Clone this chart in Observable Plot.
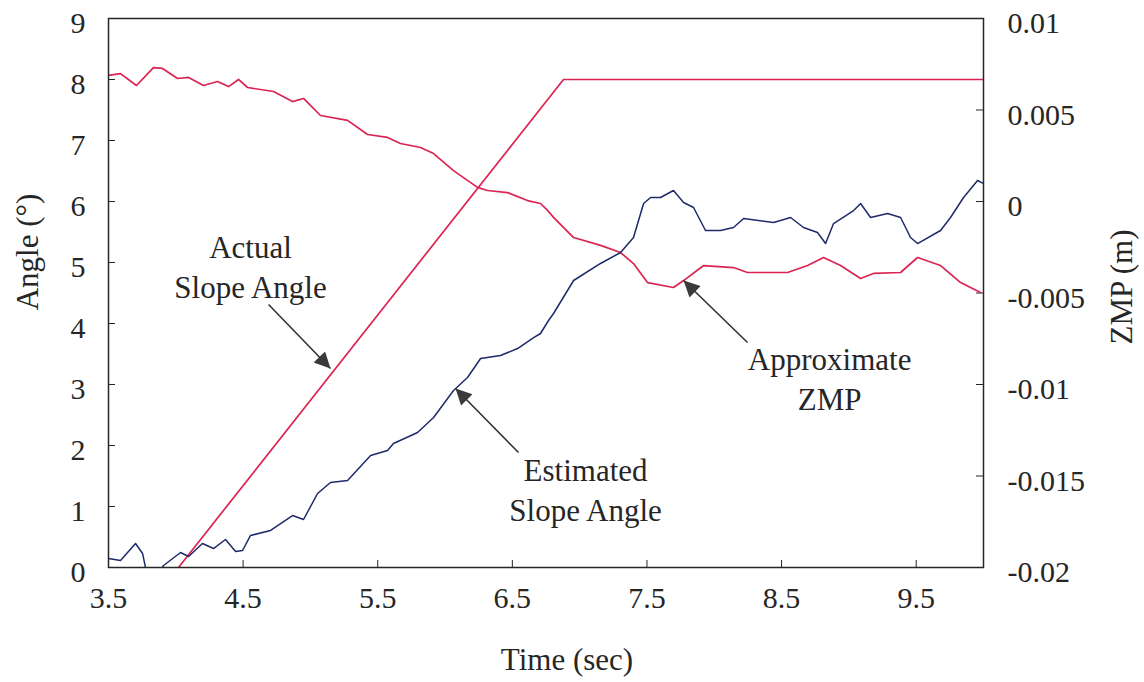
<!DOCTYPE html>
<html>
<head>
<meta charset="utf-8">
<script src="https://cdn.jsdelivr.net/npm/d3@7"></script>
<script src="https://cdn.jsdelivr.net/npm/@observablehq/plot@0.6"></script>
<style>
  html, body { margin: 0; padding: 0; background: #fff; }
  #chart svg { display: block; }
</style>
</head>
<body>
<div id="chart"></div>
<script>
// ---- Tick values / labels ----
const timeTicks = [3.5, 4.5, 5.5, 6.5, 7.5, 8.5, 9.5];
const angleTicks = [0, 1, 2, 3, 4, 5, 6, 7, 8, 9];
const zmpTicks = [0.01, 0.005, 0, -0.005, -0.01, -0.015, -0.02];
const zmpTickLabels = ["0.01", "0.005", "0", "-0.005", "-0.01", "-0.015", "-0.02"];

// ---- Actual slope angle (deg) ----
const actualTime = [4.02, 6.88, 10.0];
const actualAngle = [0, 8, 8];

// ---- Estimated slope angle (deg) ----
const estTime = [3.5, 3.589, 3.701, 3.753, 3.775, 3.842, 3.909, 4.035, 4.095, 4.198, 4.280, 4.369, 4.444, 4.496, 4.555, 4.704, 4.867, 4.949, 5.053, 5.149, 5.276, 5.447, 5.573, 5.617, 5.796, 5.915, 6.063, 6.167, 6.264, 6.412, 6.539, 6.658, 6.709, 6.769, 6.806, 6.955, 7.155, 7.304, 7.400, 7.475, 7.527, 7.601, 7.697, 7.772, 7.846, 7.935, 8.047, 8.143, 8.218, 8.441, 8.567, 8.663, 8.767, 8.827, 8.886, 9.035, 9.087, 9.161, 9.288, 9.384, 9.458, 9.510, 9.681, 9.755, 9.852, 9.956, 10.0];
const estAngle = [0.148, 0.115, 0.393, 0.23, 0, -0.2, 0.033, 0.246, 0.18, 0.393, 0.311, 0.459, 0.262, 0.279, 0.525, 0.607, 0.852, 0.787, 1.213, 1.393, 1.426, 1.836, 1.918, 2.033, 2.213, 2.459, 2.902, 3.115, 3.426, 3.475, 3.59, 3.77, 3.836, 4.049, 4.164, 4.705, 4.984, 5.164, 5.41, 5.967, 6.066, 6.066, 6.18, 5.984, 5.902, 5.525, 5.525, 5.574, 5.721, 5.656, 5.738, 5.574, 5.492, 5.311, 5.639, 5.852, 5.967, 5.738, 5.803, 5.738, 5.41, 5.311, 5.525, 5.738, 6.066, 6.344, 6.295];

// ---- Approximate ZMP (m) ----
const zmpTime = [3.5, 3.589, 3.708, 3.834, 3.901, 4.013, 4.095, 4.206, 4.310, 4.392, 4.466, 4.533, 4.726, 4.867, 4.949, 5.075, 5.276, 5.424, 5.573, 5.669, 5.818, 5.915, 6.063, 6.241, 6.316, 6.464, 6.613, 6.709, 6.762, 6.806, 6.955, 7.155, 7.304, 7.400, 7.504, 7.697, 7.772, 7.921, 8.143, 8.247, 8.545, 8.693, 8.812, 8.938, 9.087, 9.183, 9.384, 9.510, 9.681, 9.830, 9.978];
const zmpValue = [0.00689, 0.00699, 0.00634, 0.00732, 0.00727, 0.00672, 0.00678, 0.00634, 0.00656, 0.00628, 0.00667, 0.00623, 0.00601, 0.00546, 0.00563, 0.0047, 0.00443, 0.00366, 0.0035, 0.00317, 0.00295, 0.00262, 0.00169, 0.00077, 0.0006, 0.00049, 0.00005, -0.00011, -0.00049, -0.00087, -0.00197, -0.0024, -0.00279, -0.00339, -0.00443, -0.0047, -0.00432, -0.0035, -0.00361, -0.00388, -0.00388, -0.0035, -0.00306, -0.0035, -0.00421, -0.00393, -0.00388, -0.00306, -0.0035, -0.00443, -0.00497];

// ---- Annotations ----
const annoText = ["Actual\nSlope Angle", "Estimated\nSlope Angle", "Approximate\nZMP"];
const annoTime = [4.555, 7.044, 8.857];
const annoAngle = [4.951, 1.295, 3.115];
const arrowTailTime = [4.689, 6.546, 8.247];
const arrowTailAngle = [4.311, 1.885, 3.689];
const arrowTipTime = [5.149, 6.078, 7.772];
const arrowTipAngle = [3.262, 2.934, 4.705];

// ---- helpers ----
const zmpMax = d3.max(zmpTicks), zmpMin = d3.min(zmpTicks);
const angleMax = d3.max(angleTicks);
const toAngle = z => (z - zmpMin) / (zmpMax - zmpMin) * angleMax;

const W = 1144, H = 682, mT = 18, mB = 115, mL = 108, mR = 161;
const innerW = W - mL - mR, innerH = H - mT - mB;
const tickLen = 7;

const red = "#db2452";
const navy = "#1e2a6a";
const ink = "#262626";

function filledArrow(color, context) {
  const m = d3.create("svg:marker")
    .attr("viewBox", "0 -5 10 10")
    .attr("markerWidth", 22)
    .attr("markerHeight", 16)
    .attr("refX", 10)
    .attr("refY", 0)
    .attr("markerUnits", "userSpaceOnUse")
    .attr("orient", "auto");
  m.append("path").attr("d", "M0,-5L10,0L0,5Z").attr("fill", "#3a3a3a").attr("stroke", "none");
  return m.node();
}

const chart = Plot.plot({
  width: W,
  height: H,
  marginTop: mT,
  marginBottom: mB,
  marginLeft: mL,
  marginRight: mR,
  x: { domain: [3.5, 10] },
  y: { domain: [0, angleMax] },
  style: {
    fontFamily: "'Liberation Serif', 'Times New Roman', serif",
    fontSize: "30px",
    color: ink,
    background: "#fff"
  },
  marks: [
    // inner ticks
    Plot.tickY(angleTicks, { y: d => d, insetRight: innerW - tickLen, stroke: ink, strokeWidth: 1 }),
    Plot.tickY(zmpTicks, { y: toAngle, insetLeft: innerW - tickLen, stroke: ink, strokeWidth: 1 }),
    Plot.tickX(timeTicks, { x: d => d, insetTop: innerH - tickLen, stroke: ink, strokeWidth: 1 }),
    // axes
    Plot.axisX(timeTicks, { tickSize: 0, tickPadding: 19, fontSize: 30, label: null, tickFormat: d => d.toFixed(1) }),
    Plot.axisY(angleTicks, { tickSize: 0, tickPadding: 23, fontSize: 30, dy: 5, label: null, tickFormat: d => String(d) }),
    Plot.text(zmpTicks, { y: toAngle, frameAnchor: "right", dx: 24, dy: 5, textAnchor: "start", lineAnchor: "middle", fontSize: 30, fill: ink, text: (d, i) => zmpTickLabels[i] }),
    // axis titles
    Plot.text(["Time (sec)"], { text: d => d, frameAnchor: "bottom", textAnchor: "middle", lineAnchor: "middle", dx: 21, dy: 93, fontSize: 31, fill: ink }),
    Plot.text(["Angle (°)"], { text: d => d, frameAnchor: "left", textAnchor: "middle", lineAnchor: "middle", dx: -80, dy: -41, rotate: -90, fontSize: 31, fill: ink }),
    Plot.text(["ZMP (m)"], { text: d => d, frameAnchor: "right", textAnchor: "middle", lineAnchor: "middle", dx: 139, dy: -6, rotate: -90, fontSize: 31, fill: ink }),
    // data lines
    Plot.line(actualAngle, { x: (d, i) => actualTime[i], y: d => d, stroke: red, strokeWidth: 1.7, clip: true }),
    Plot.line(zmpValue, { x: (d, i) => zmpTime[i], y: toAngle, stroke: red, strokeWidth: 1.7, clip: true }),
    Plot.line(estAngle, { x: (d, i) => estTime[i], y: d => d, stroke: navy, strokeWidth: 1.5, clip: true }),
    // annotations
    Plot.link(annoText, {
      x1: (d, i) => arrowTailTime[i], y1: (d, i) => arrowTailAngle[i],
      x2: (d, i) => arrowTipTime[i], y2: (d, i) => arrowTipAngle[i],
      stroke: "#333", strokeWidth: 1.6, markerEnd: filledArrow
    }),
    Plot.text(annoText, { x: (d, i) => annoTime[i], y: (d, i) => annoAngle[i], text: d => d, fontSize: 31, lineHeight: 1.28, fill: ink }),
    // frame
    Plot.frame({ stroke: ink, strokeWidth: 1.5 })
  ]
});

document.getElementById("chart").appendChild(chart);
</script>
</body>
</html>
